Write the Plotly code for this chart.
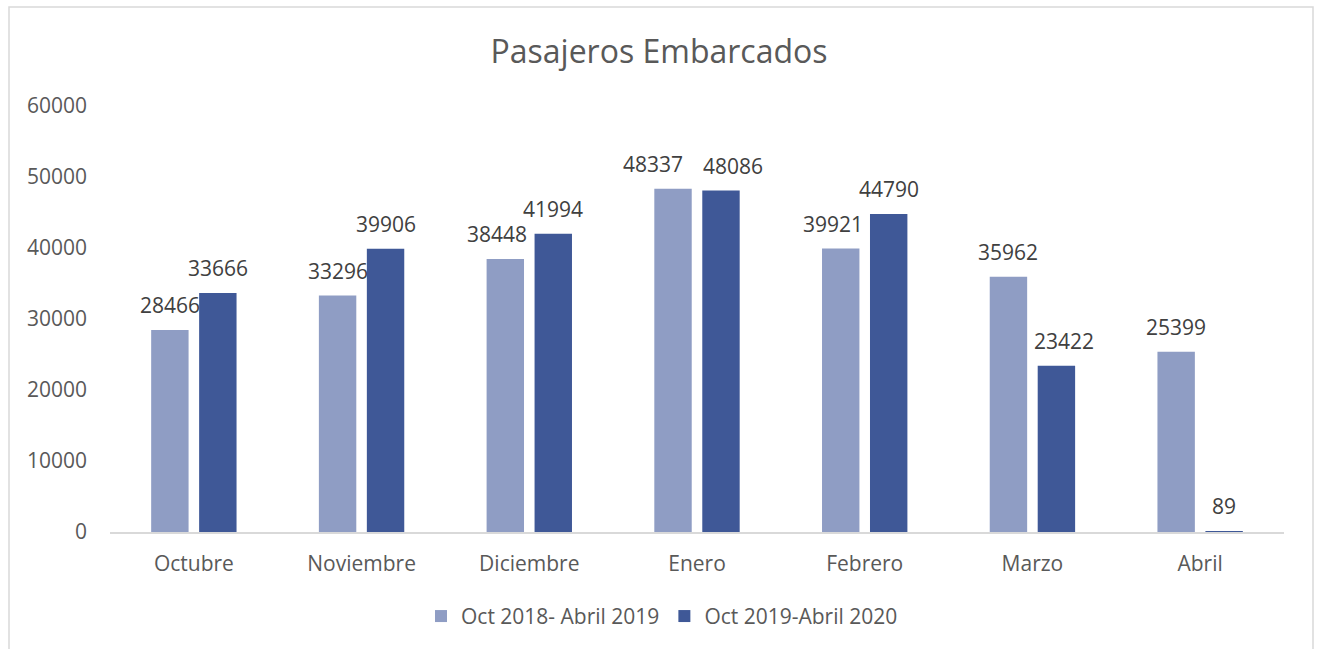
import plotly.graph_objects as go

months = ["Octubre", "Noviembre", "Diciembre", "Enero", "Febrero", "Marzo", "Abril"]
series_2019 = [28466, 33296, 38448, 48337, 39921, 35962, 25399]
series_2020 = [33666, 39906, 41994, 48086, 44790, 23422, 89]
name_2019 = "Oct 2018- Abril 2019"
name_2020 = "Oct 2019-Abril 2020"
y_ticks = [0, 10000, 20000, 30000, 40000, 50000, 60000]

# label nudges (pixels), style only (mimics Excel's label collision offsets)
dx_2019 = [0, 0, -8, -20, -8, 0, 0]
dx_2020 = [0, 0, 0, 12, 0, 8, 0]

C1 = "#8F9DC4"
C2 = "#3F5897"
TXT = "#595959"
LBL = "#404040"
FONT = "'Open Sans', 'Segoe UI', sans-serif"

fig = go.Figure()
fig.add_trace(go.Bar(x=months, y=series_2019, name=name_2019, marker_color=C1,
                     marker_line_width=0))
fig.add_trace(go.Bar(x=months, y=series_2020, name=name_2020, marker_color=C2,
                     marker_line_width=0))

annotations = []
for vals, off, dxs in ((series_2019, -24, dx_2019), (series_2020, 24, dx_2020)):
    for m, v, d in zip(months, vals, dxs):
        annotations.append(dict(x=m, y=v, text=str(v), showarrow=False,
                                xshift=off + d, yshift=9, yanchor="bottom",
                                font=dict(size=21, color=LBL, family=FONT)))

fig.update_layout(
    width=1318, height=649,
    margin=dict(l=110, r=34, t=106, b=117),
    paper_bgcolor="white", plot_bgcolor="white",
    barmode="group", bargap=0.428, bargroupgap=0.22,
    title=dict(text="Pasajeros Embarcados", x=0.5, xanchor="center",
               y=1 - 52 / 649, yanchor="middle",
               font=dict(size=32, color=TXT, family=FONT)),
    font=dict(family=FONT, color=TXT, size=21),
    xaxis=dict(showline=True, linecolor="#D9D9D9", linewidth=1.5, ticks="",
               ticklabelstandoff=12,
               tickfont=dict(size=21, color=TXT), showgrid=False),
    yaxis=dict(range=[0, 60000], tickvals=y_ticks, ticktext=[str(t) for t in y_ticks],
               showgrid=False, zeroline=False, showline=False, ticks="",
               ticklabelstandoff=22, tickfont=dict(size=21, color=TXT)),
    legend=dict(orientation="h", x=0.5 - 35 / 1174, xanchor="center", y=-0.15,
                yanchor="top", font=dict(size=21, color=TXT), itemwidth=30),
    annotations=annotations,
    shapes=[dict(type="rect", xref="paper", yref="paper",
                 x0=-101 / 1174, x1=1203 / 1174, y0=-140 / 426, y1=1 + 99 / 426,
                 line=dict(color="#D9D9D9", width=1.5), fillcolor="rgba(0,0,0,0)",
                 layer="below")],
)

fig.write_html("out.html", config={"displayModeBar": False},
               post_script="document.body.style.margin='0';document.body.style.overflow='hidden';window.dispatchEvent(new Event('resize'));")
